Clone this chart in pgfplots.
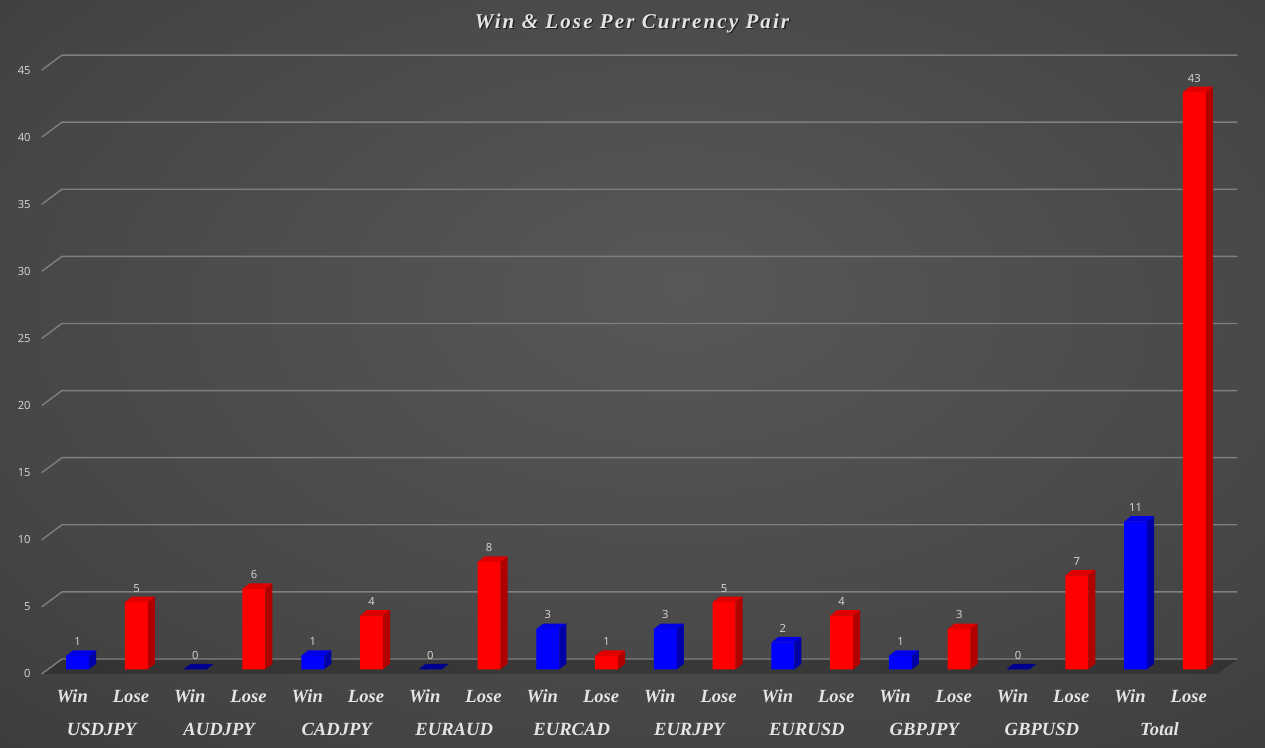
\documentclass[border=0pt]{standalone}
\usepackage{pgfplots}
\pgfplotsset{compat=1.18}
\usepackage{fontspec}
\setmainfont{Liberation Serif}
\newfontfamily\tickfont{Open Sans}
\newfontfamily\titlefont[LetterSpace=10]{Liberation Serif}
\definecolor{bgin}{HTML}{585858}
\definecolor{bgmid}{HTML}{444444}
\definecolor{bgout}{HTML}{1E1E1E}
\definecolor{gridc}{HTML}{7F7F7F}
\definecolor{txt}{HTML}{D9D9D9}
\definecolor{lbl}{HTML}{E4E4E4}
\definecolor{bluefront}{HTML}{0000FF}
\definecolor{bluetop}{HTML}{0000E8}
\definecolor{blueside}{HTML}{0000A6}
\definecolor{bluezero}{HTML}{000090}
\definecolor{redfront}{HTML}{FF0000}
\definecolor{redtop}{HTML}{E00000}
\definecolor{redside}{HTML}{B00000}
\pgfdeclareradialshading{bgshade}{\pgfpoint{2bp}{6bp}}{color(0bp)=(bgin); color(30bp)=(bgmid); color(72bp)=(bgout)}

% 3D top + side faces of a bar, drawn at the data point (top centre of the front face)
\pgfdeclareplotmark{box3dblue}{%
  \pgfmathsetmacro\hh{\hval*6.71}%
  \pgfpathmoveto{\pgfpoint{-5.75pt}{0pt}}%
  \pgfpathlineto{\pgfpoint{5.75pt}{0pt}}%
  \pgfpathlineto{\pgfpoint{9.25pt}{2.75pt}}%
  \pgfpathlineto{\pgfpoint{-2.25pt}{2.75pt}}%
  \pgfpathclose
  \ifdim\hh pt<0.01pt \pgfsetfillcolor{bluezero}\else\pgfsetfillcolor{bluetop}\fi
  \pgfusepath{fill}%
  \ifdim\hh pt>0.01pt
    \pgfpathmoveto{\pgfpoint{5.75pt}{0pt}}%
    \pgfpathlineto{\pgfpoint{9.25pt}{2.75pt}}%
    \pgfpathlineto{\pgfpoint{9.25pt}{2.75pt-\hh pt}}%
    \pgfpathlineto{\pgfpoint{5.75pt}{-\hh pt}}%
    \pgfpathclose
    \pgfsetfillcolor{blueside}\pgfusepath{fill}%
  \fi
}
\pgfdeclareplotmark{box3dred}{%
  \pgfmathsetmacro\hh{\hval*6.71}%
  \pgfpathmoveto{\pgfpoint{-5.75pt}{0pt}}%
  \pgfpathlineto{\pgfpoint{5.75pt}{0pt}}%
  \pgfpathlineto{\pgfpoint{9.25pt}{2.75pt}}%
  \pgfpathlineto{\pgfpoint{-2.25pt}{2.75pt}}%
  \pgfpathclose
  \pgfsetfillcolor{redtop}\pgfusepath{fill}%
  \ifdim\hh pt>0.01pt
    \pgfpathmoveto{\pgfpoint{5.75pt}{0pt}}%
    \pgfpathlineto{\pgfpoint{9.25pt}{2.75pt}}%
    \pgfpathlineto{\pgfpoint{9.25pt}{2.75pt-\hh pt}}%
    \pgfpathlineto{\pgfpoint{5.75pt}{-\hh pt}}%
    \pgfpathclose
    \pgfsetfillcolor{redside}\pgfusepath{fill}%
  \fi
}

\begin{document}
\begin{tikzpicture}
% background
\shade[shading=bgshade] (0pt,0pt) rectangle (632.5pt,374pt);
% floor
\fill[black, opacity=0.22] (20.85pt,37pt) -- (608.55pt,37pt) -- (619pt,44.5pt) -- (30.85pt,44.5pt) -- cycle;
% title with soft shadow
\node[text=black, opacity=0.55, font=\titlefont\bfseries\itshape\fontsize{10.5}{12}\selectfont] at (316.7pt,361.8pt) {Win \& Lose Per Currency Pair};
\node[text=lbl, font=\titlefont\bfseries\itshape\fontsize{10.5}{12}\selectfont] at (316pt,362.5pt) {Win \& Lose Per Currency Pair};

\begin{axis}[
  at={(24.15pt,39.35pt)}, anchor=south west,
  scale only axis, width=587.7pt, height=301.95pt,
  xmin=-0.5, xmax=19.5, ymin=0, ymax=45,
  clip=false,
  axis line style={draw=none},
  tick style={draw=none},
  major tick length=0pt,
  /pgf/number format/assume math mode=true,
  ytick={0,5,...,45},
  yticklabel style={font=\tickfont\fontsize{5.6}{6}\selectfont, text=txt, anchor=east, inner sep=0pt, xshift=-8.65pt, yshift=-2.35pt},
  xtick={0,...,19},
  xticklabels={Win,Lose,Win,Lose,Win,Lose,Win,Lose,Win,Lose,Win,Lose,Win,Lose,Win,Lose,Win,Lose,Win,Lose},
  xticklabel style={font=\bfseries\itshape\fontsize{9.3}{11}\selectfont, text=lbl, anchor=center, inner sep=0pt, xshift=-2.75pt, yshift=-13.6pt},
  extra x ticks={0.5,2.5,4.5,6.5,8.5,10.5,12.5,14.5,16.5,18.5},
  extra x tick labels={USDJPY,AUDJPY,CADJPY,EURAUD,EURCAD,EURJPY,EURUSD,GBPJPY,GBPUSD,Total},
  extra x tick style={xticklabel style={yshift=-16.4pt}},
  nodes near coords style={font=\tickfont\fontsize{5.6}{6}\selectfont, text=txt, inner sep=0pt, anchor=south, yshift=4.8pt},
]
% gridlines (back wall) with perspective ticks on the side wall
\pgfplotsinvokeforeach{0,5,...,45}{
  \draw[gridc, line width=0.7pt] ([xshift=-3.3pt,yshift=-2.35pt]axis cs:-0.5,#1) -- ([xshift=6.85pt,yshift=5.15pt]axis cs:-0.5,#1) -- ([xshift=6.85pt,yshift=5.15pt]axis cs:19.5,#1);
}
% 3D faces
\addplot[scatter, only marks, mark=box3dblue, scatter/use mapped color={draw=none,fill=none},
  visualization depends on={rawy \as \hval}]
  coordinates {(0,1) (2,0) (4,1) (6,0) (8,3) (10,3) (12,2) (14,1) (16,0) (18,11)};
\addplot[scatter, only marks, mark=box3dred, scatter/use mapped color={draw=none,fill=none},
  visualization depends on={rawy \as \hval}]
  coordinates {(1,5) (3,6) (5,4) (7,8) (9,1) (11,5) (13,4) (15,3) (17,7) (19,43)};
% front faces
\addplot[ybar, bar width=11.5pt, bar shift=0pt, fill=bluefront, draw=none, nodes near coords]
  coordinates {(0,1) (2,0) (4,1) (6,0) (8,3) (10,3) (12,2) (14,1) (16,0) (18,11)};
\addplot[ybar, bar width=11.5pt, bar shift=0pt, fill=redfront, draw=none, nodes near coords]
  coordinates {(1,5) (3,6) (5,4) (7,8) (9,1) (11,5) (13,4) (15,3) (17,7) (19,43)};
\end{axis}
\pgfresetboundingbox
\path (0pt,0pt) rectangle (632.5pt,374pt);
\end{tikzpicture}
\end{document}
